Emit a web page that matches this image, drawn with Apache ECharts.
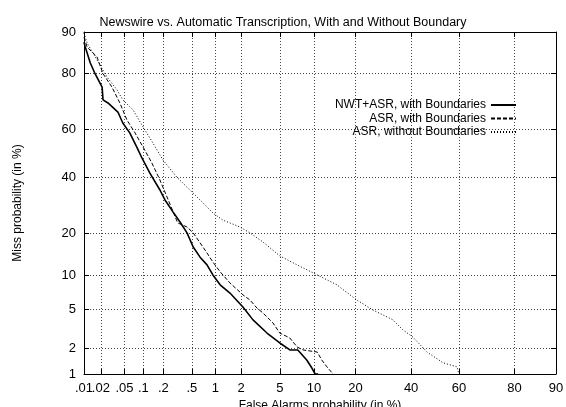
<!DOCTYPE html>
<html>
<head>
<meta charset="utf-8">
<script src="https://cdn.jsdelivr.net/npm/echarts@6/dist/echarts.min.js"></script>
<style>
html, body { margin: 0; padding: 0; background: #fff; }
#main { width: 566px; height: 407px; }
</style>
</head>
<body>
<div id="main"></div>
<script>
// tick positions (in %) and their labels
var xTicks = [0.01, 0.02, 0.05, 0.1, 0.2, 0.5, 1, 2, 5, 10, 20, 40, 60, 80, 90]
var xTickLabels = ['.01', '.02', '.05', '.1', '.2', '.5', '1', '2', '5', '10', '20', '40', '60', '80', '90']
var yTicks = [1, 2, 5, 10, 20, 40, 60, 80, 90]
var yTickLabels = ['1', '2', '5', '10', '20', '40', '60', '80', '90']

var seriesNames = ['NWT+ASR, with Boundaries', 'ASR, with Boundaries', 'ASR, without Boundaries']

// NWT+ASR, with Boundaries (false alarm %, miss %)
var nwtFa = [0.01, 0.0105, 0.013, 0.0158, 0.021, 0.0218, 0.0265, 0.039, 0.047, 0.061, 0.079, 0.095, 0.126, 0.178, 0.211, 0.275, 0.345, 0.43, 0.52, 0.64, 0.785, 0.93, 1.14, 1.49, 2.09, 2.69, 3.75, 5.0, 6.2, 7.3, 8.7, 9.6, 10.2, 10.8]
var nwtMiss = [88, 87, 83, 80, 75.8, 71.4, 70.3, 66.9, 62.6, 58.6, 52.7, 48.1, 41.8, 35.0, 31.2, 26.9, 23.5, 20.1, 16.2, 13.7, 12.0, 10.0, 8.3, 7.05, 5.27, 3.96, 2.91, 2.28, 1.91, 1.91, 1.47, 1.18, 1.0, 1.0]

// ASR, with Boundaries
var asrFa = [0.01, 0.0114, 0.0171, 0.0218, 0.031, 0.042, 0.055, 0.074, 0.099, 0.135, 0.178, 0.226, 0.32, 0.43, 0.52, 0.64, 0.785, 0.93, 1.14, 1.49, 2.09, 2.5, 2.96, 3.42, 4.3, 5.0, 6.2, 7.2, 8.1, 10.6, 11.5, 12.6, 14.0]
var asrMiss = [89, 86.9, 84.6, 80, 75.8, 70.3, 63.8, 58.6, 52.7, 46.0, 39.0, 32.3, 23.2, 21.9, 20.1, 17.3, 14.7, 12.6, 10.6, 8.6, 6.8, 6.1, 5.15, 4.62, 3.69, 2.91, 2.58, 2.06, 1.91, 1.81, 1.47, 1.22, 1.0]

// ASR, without Boundaries
var noBFa = [0.01, 0.0114, 0.0171, 0.0255, 0.0377, 0.047, 0.069, 0.099, 0.14, 0.198, 0.31, 0.47, 0.70, 0.93, 1.23, 1.94, 2.5, 3.42, 5.0, 7.2, 10.6, 14.9, 20.4, 25.5, 32.8, 36.7, 40.7, 46.6, 53.4, 59.2, 60.0]
var noBMiss = [89.8, 87.8, 83.8, 79.0, 74.9, 71.4, 67.7, 61.0, 54.4, 47.2, 40.2, 35.0, 30.1, 26.5, 24.1, 21.9, 20.1, 17.5, 14.0, 12.0, 10.0, 8.3, 6.1, 4.94, 3.96, 3.13, 2.64, 1.81, 1.36, 1.22, 1.0]

// inverse normal CDF (Acklam) -> normal deviate scale of the DET plot
function probit(p) {
    var a = [-39.69683028665376, 220.9460984245205, -275.9285104469687, 138.3577518672690, -30.66479806614716, 2.506628277459239]
    var b = [-54.47609879822406, 161.5858368580409, -155.6989798598866, 66.80131188771972, -13.28068155288572]
    var c = [-0.007784894002430293, -0.3223964580411365, -2.400758277161838, -2.549732539343734, 4.374664141464968, 2.938163982698783]
    var d = [0.007784695709041462, 0.3224671290700398, 2.445134137142996, 3.754408661907416]
    var pl = 0.02425, q, r
    if (p < pl) {
        q = Math.sqrt(-2 * Math.log(p))
        return (((((c[0]*q+c[1])*q+c[2])*q+c[3])*q+c[4])*q+c[5]) / ((((d[0]*q+d[1])*q+d[2])*q+d[3])*q+1)
    } else if (p <= 1 - pl) {
        q = p - 0.5
        r = q * q
        return (((((a[0]*r+a[1])*r+a[2])*r+a[3])*r+a[4])*r+a[5])*q / (((((b[0]*r+b[1])*r+b[2])*r+b[3])*r+b[4])*r+1)
    } else {
        q = Math.sqrt(-2 * Math.log(1 - p))
        return -(((((c[0]*q+c[1])*q+c[2])*q+c[3])*q+c[4])*q+c[5]) / ((((d[0]*q+d[1])*q+d[2])*q+d[3])*q+1)
    }
}

function pct(v) { return probit(v / 100) }

function pairs(fa, miss) {
    var out = []
    for (var i = 0; i < fa.length; i++) {
        out.push([pct(fa[i]), pct(miss[i])])
    }
    return out
}

var xTickVals = xTicks.map(pct)
var yTickVals = yTicks.map(pct)

function labelFor(vals, labels) {
    return function (v) {
        for (var i = 0; i < vals.length; i++) {
            if (Math.abs(vals[i] - v) < 1e-6) return labels[i]
        }
        return ''
    }
}

var font = 'Liberation Sans, Arial, Helvetica, sans-serif'
var gridLine = { show: true, lineStyle: { color: '#444', type: [1, 2], width: 1 } }

// kind: 'main' (bottom, labels from .02 up), 'first' (bottom, only the .01 label), 'top' (mirror ticks)
function xAx(kind) {
    var isMain = kind === 'main'
    var labelVals = kind === 'first' ? xTickVals.slice(0, 1) : xTickVals.slice(1)
    return {
        type: 'value',
        position: kind === 'top' ? 'top' : 'bottom',
        min: pct(xTicks[0]),
        max: pct(xTicks[xTicks.length - 1]),
        axisLine: { show: kind !== 'first', onZero: false, lineStyle: { color: '#000', width: 1 } },
        axisTick: { show: kind !== 'first', inside: true, length: 5, customValues: xTickVals, lineStyle: { color: '#000' } },
        axisLabel: {
            show: kind !== 'top', customValues: labelVals, formatter: labelFor(xTickVals, xTickLabels),
            hideOverlap: false,
            color: '#000', fontSize: 13, fontFamily: font, margin: 8
        },
        splitLine: isMain ? gridLine : { show: false },
        name: isMain ? 'False Alarms probability (in %)' : '',
        nameLocation: 'middle',
        nameGap: 22,
        nameTextStyle: { color: '#000', fontSize: 12, fontFamily: font }
    }
}

function yAx(pos, showLabel) {
    return {
        type: 'value',
        position: pos,
        min: pct(yTicks[0]),
        max: pct(yTicks[yTicks.length - 1]),
        axisLine: { show: true, onZero: false, lineStyle: { color: '#000', width: 1 } },
        axisTick: { show: true, inside: true, length: 5, customValues: yTickVals, lineStyle: { color: '#000' } },
        axisLabel: {
            show: showLabel, customValues: yTickVals, formatter: labelFor(yTickVals, yTickLabels),
            showMinLabel: true, showMaxLabel: true, hideOverlap: false,
            color: '#000', fontSize: 13, fontFamily: font, margin: 8
        },
        splitLine: pos === 'left' ? gridLine : { show: false },
        name: showLabel ? 'Miss probability (in %)' : '',
        nameLocation: 'middle',
        nameGap: 60,
        nameTextStyle: { color: '#000', fontSize: 12, fontFamily: font }
    }
}

var mCharts = echarts.init(document.getElementById('main'))
var option = {
    animation: false,
    backgroundColor: '#fff',
    title: {
        text: 'Newswire vs. Automatic Transcription, With and Without Boundary',
        left: 'center',
        top: 11,
        textStyle: { color: '#000', fontSize: 12.5, fontWeight: 'normal', fontFamily: font }
    },
    grid: { left: 84, right: 10, top: 32, bottom: 33, outerBoundsMode: 'none' },
    legend: {
        orient: 'vertical',
        align: 'right',
        right: 49,
        top: 99,
        padding: 0,
        itemWidth: 25,
        itemHeight: 10,
        itemGap: 1.5,
        itemStyle: { color: 'transparent', borderWidth: 0 },
        textStyle: { color: '#000', fontSize: 12, lineHeight: 12, fontFamily: font },
        data: seriesNames
    },
    xAxis: [xAx('main'), xAx('top'), xAx('first')],
    yAxis: [yAx('left', true), yAx('right', false)],
    series: [
        {
            name: seriesNames[0], type: 'line', symbol: 'none',
            data: pairs(nwtFa, nwtMiss),
            lineStyle: { color: '#000', width: 1.6, type: 'solid' }
        },
        {
            name: seriesNames[1], type: 'line', symbol: 'none',
            data: pairs(asrFa, asrMiss),
            lineStyle: { color: '#000', width: 1, type: [4, 2] }
        },
        {
            name: seriesNames[2], type: 'line', symbol: 'none',
            data: pairs(noBFa, noBMiss),
            lineStyle: { color: '#000', width: 1, type: [1, 2] }
        }
    ]
}
mCharts.setOption(option)
</script>
</body>
</html>
